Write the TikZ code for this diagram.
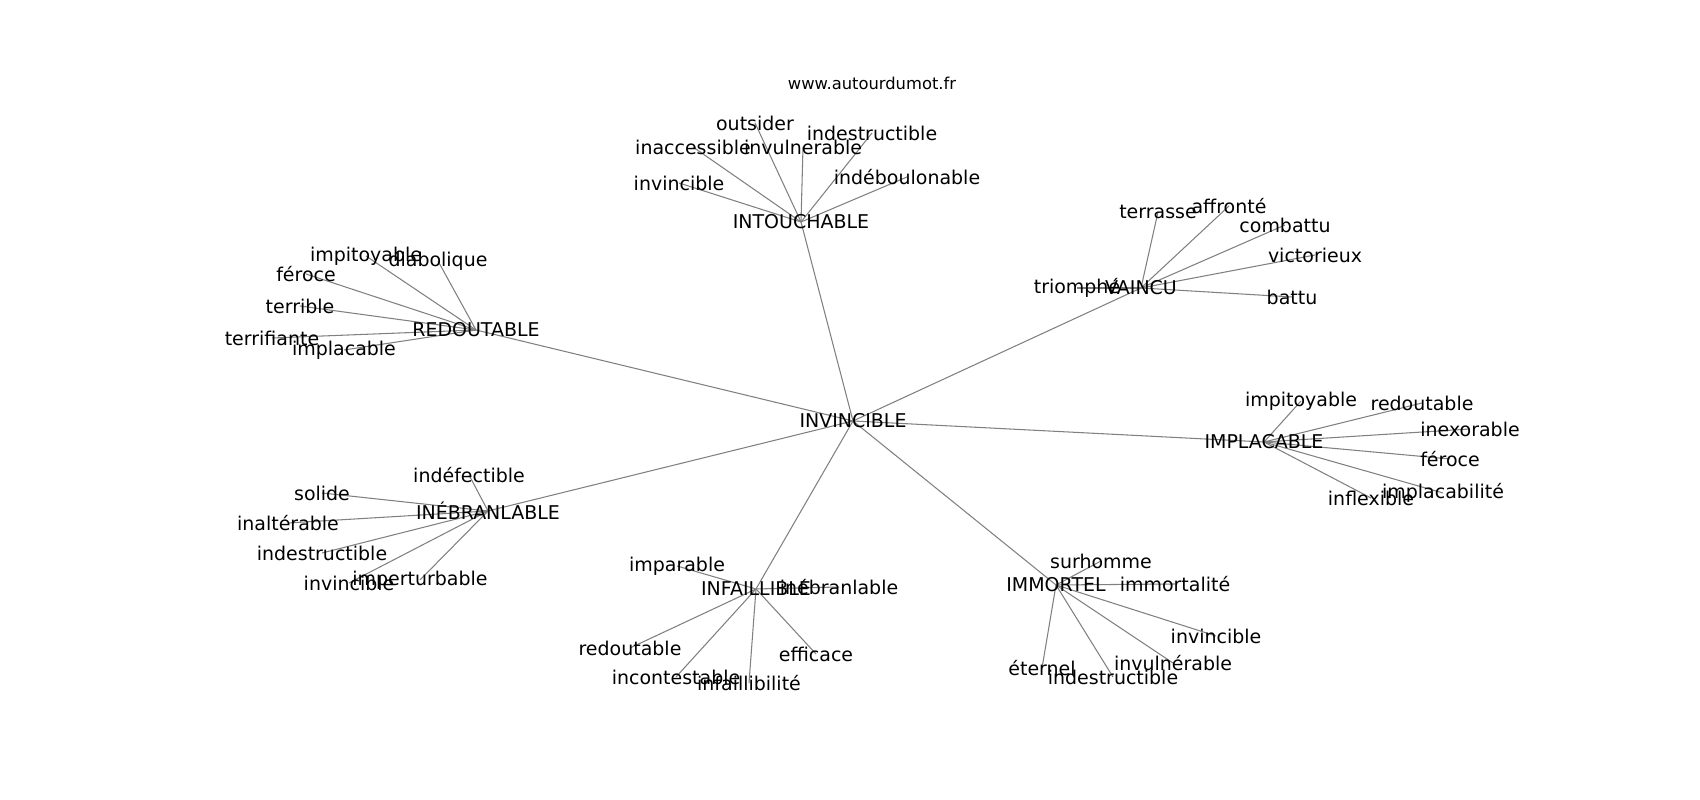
\documentclass[tikz,border=0pt]{standalone}
\usepackage{fontspec}
\setmainfont{DejaVu Sans}
\usetikzlibrary{backgrounds}
\tikzset{
	word/.style={inner sep=0pt, font=\fontsize{10.8}{13}\selectfont},
	site/.style={inner sep=0pt, font=\fontsize{9.3}{11}\selectfont},
	link/.style={draw=black!50, line width=0.6pt}
}

\begin{document}
\begin{tikzpicture}
		%%%%% START %%%%%
		\useasboundingbox (0, 0) rectangle (34, 16);
		
		\node[site] (site) at (17.44, 14.34) {www.autourdumot.fr};
		
		\node[word] (inv) at (17.06, 7.58) {INVINCIBLE};
		
		\node[word] (intouch) at (16.02, 11.56) {INTOUCHABLE};
		\node[word] (redout) at (9.52, 9.40) {REDOUTABLE};
		\node[word] (vaincu) at (22.82, 10.24) {VAINCU};
		\node[word] (implac) at (25.28, 7.16) {IMPLACABLE};
		\node[word] (inebr) at (9.76, 5.78) {INÉBRANLABLE};
		\node[word] (infail) at (15.12, 4.22) {INFAILLIBLE};
		\node[word] (immort) at (21.12, 4.30) {IMMORTEL};
		
		\node[word] (intouch-a) at (15.10, 13.54) {outsider};
		\node[word] (intouch-b) at (17.44, 13.34) {indestructible};
		\node[word] (intouch-c) at (13.86, 13.06) {inaccessible};
		\node[word] (intouch-d) at (16.06, 13.06) {invulnerable};
		\node[word] (intouch-e) at (13.58, 12.34) {invincible};
		\node[word] (intouch-f) at (18.14, 12.46) {indéboulonable};
		
		\node[word] (redout-a) at (7.32, 10.88) {impitoyable};
		\node[word] (redout-b) at (8.76, 10.78) {diabolique};
		\node[word] (redout-c) at (6.12, 10.52) {féroce};
		\node[word] (redout-d) at (6.00, 9.88) {terrible};
		\node[word] (redout-e) at (5.44, 9.24) {terrifiante};
		\node[word] (redout-f) at (6.88, 9.00) {implacable};
		
		\node[word] (vaincu-a) at (23.16, 11.76) {terrasse};
		\node[word] (vaincu-b) at (24.58, 11.88) {affronté};
		\node[word] (vaincu-c) at (25.70, 11.50) {combattu};
		\node[word] (vaincu-d) at (26.30, 10.90) {victorieux};
		\node[word] (vaincu-e) at (25.84, 10.06) {battu};
		\node[word] (vaincu-f) at (21.54, 10.24) {triomphé};
		
		\node[word] (implac-a) at (26.02, 7.98) {impitoyable};
		\node[word] (implac-b) at (28.44, 7.94) {redoutable};
		\node[word] (implac-c) at (29.40, 7.42) {inexorable};
		\node[word] (implac-d) at (29.00, 6.82) {féroce};
		\node[word] (implac-e) at (28.86, 6.14) {implacabilité};
		\node[word] (implac-f) at (27.42, 6.04) {inflexible};
		
		\node[word] (inebr-a) at (9.38, 6.50) {indéfectible};
		\node[word] (inebr-b) at (6.44, 6.14) {solide};
		\node[word] (inebr-c) at (5.76, 5.54) {inaltérable};
		\node[word] (inebr-d) at (6.44, 4.94) {indestructible};
		\node[word] (inebr-e) at (6.98, 4.34) {invincible};
		\node[word] (inebr-f) at (8.40, 4.40) {imperturbable};
		
		\node[word] (infail-a) at (13.54, 4.68) {imparable};
		\node[word] (infail-b) at (16.78, 4.26) {inébranlable};
		\node[word] (infail-c) at (12.60, 3.04) {redoutable};
		\node[word] (infail-d) at (13.52, 2.46) {incontestable};
		\node[word] (infail-e) at (14.98, 2.34) {infaillibilité};
		\node[word] (infail-f) at (16.32, 2.92) {efficace};
		
		\node[word] (immort-a) at (22.02, 4.78) {surhomme};
		\node[word] (immort-b) at (23.50, 4.32) {immortalité};
		\node[word] (immort-c) at (24.32, 3.28) {invincible};
		\node[word] (immort-d) at (23.46, 2.74) {invulnérable};
		\node[word] (immort-e) at (20.84, 2.64) {éternel};
		\node[word] (immort-f) at (22.26, 2.46) {indestructible};
		
		\begin{pgfonlayer}{background}
		\draw[link] (inv.center) -- (intouch.center);
		\draw[link] (inv.center) -- (redout.center);
		\draw[link] (inv.center) -- (vaincu.center);
		\draw[link] (inv.center) -- (implac.center);
		\draw[link] (inv.center) -- (inebr.center);
		\draw[link] (inv.center) -- (infail.center);
		\draw[link] (inv.center) -- (immort.center);
		
		\draw[link] (intouch.center) -- (intouch-a.center);
		\draw[link] (intouch.center) -- (intouch-b.center);
		\draw[link] (intouch.center) -- (intouch-c.center);
		\draw[link] (intouch.center) -- (intouch-d.center);
		\draw[link] (intouch.center) -- (intouch-e.center);
		\draw[link] (intouch.center) -- (intouch-f.center);
		
		\draw[link] (redout.center) -- (redout-a.center);
		\draw[link] (redout.center) -- (redout-b.center);
		\draw[link] (redout.center) -- (redout-c.center);
		\draw[link] (redout.center) -- (redout-d.center);
		\draw[link] (redout.center) -- (redout-e.center);
		\draw[link] (redout.center) -- (redout-f.center);
		
		\draw[link] (vaincu.center) -- (vaincu-a.center);
		\draw[link] (vaincu.center) -- (vaincu-b.center);
		\draw[link] (vaincu.center) -- (vaincu-c.center);
		\draw[link] (vaincu.center) -- (vaincu-d.center);
		\draw[link] (vaincu.center) -- (vaincu-e.center);
		\draw[link] (vaincu.center) -- (vaincu-f.center);
		
		\draw[link] (implac.center) -- (implac-a.center);
		\draw[link] (implac.center) -- (implac-b.center);
		\draw[link] (implac.center) -- (implac-c.center);
		\draw[link] (implac.center) -- (implac-d.center);
		\draw[link] (implac.center) -- (implac-e.center);
		\draw[link] (implac.center) -- (implac-f.center);
		
		\draw[link] (inebr.center) -- (inebr-a.center);
		\draw[link] (inebr.center) -- (inebr-b.center);
		\draw[link] (inebr.center) -- (inebr-c.center);
		\draw[link] (inebr.center) -- (inebr-d.center);
		\draw[link] (inebr.center) -- (inebr-e.center);
		\draw[link] (inebr.center) -- (inebr-f.center);
		
		\draw[link] (infail.center) -- (infail-a.center);
		\draw[link] (infail.center) -- (infail-b.center);
		\draw[link] (infail.center) -- (infail-c.center);
		\draw[link] (infail.center) -- (infail-d.center);
		\draw[link] (infail.center) -- (infail-e.center);
		\draw[link] (infail.center) -- (infail-f.center);
		
		\draw[link] (immort.center) -- (immort-a.center);
		\draw[link] (immort.center) -- (immort-b.center);
		\draw[link] (immort.center) -- (immort-c.center);
		\draw[link] (immort.center) -- (immort-d.center);
		\draw[link] (immort.center) -- (immort-e.center);
		\draw[link] (immort.center) -- (immort-f.center);
		\end{pgfonlayer}
		%%%%% END %%%%%
	\end{tikzpicture}
\end{document}
